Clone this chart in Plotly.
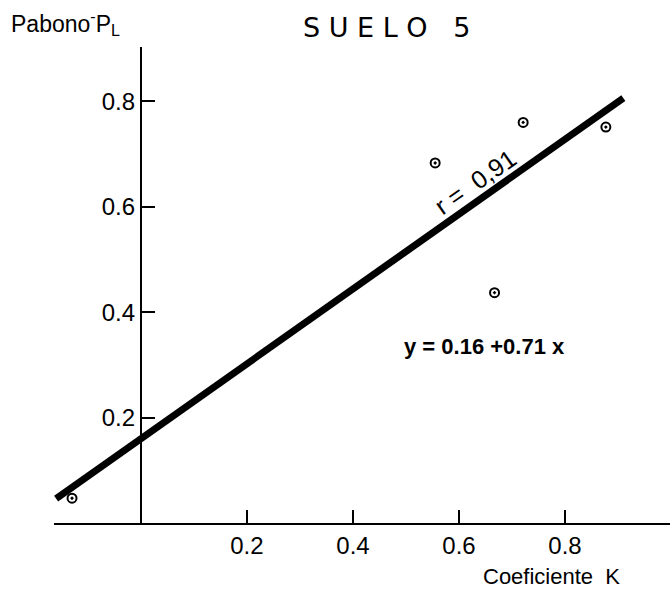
import plotly.graph_objects as go

# Data
k_values = [-0.13, 0.555, 0.667, 0.721, 0.877]
p_values = [0.047, 0.683, 0.437, 0.760, 0.751]
intercept = 0.16
slope = 0.71
fit_x = [-0.16, 0.91]
fit_y = [intercept + slope * x for x in fit_x]
tick_vals = [0.2, 0.4, 0.6, 0.8]
tick_text = ["0.2", "0.4", "0.6", "0.8"]
x_range = [-0.164, 0.998]
y_range = [0.0, 0.903]

COND = "Liberation Sans, Arial, sans-serif"


def cfont(size, bold=False):
    return dict(family=COND, size=size, color="black",
                weight="bold" if bold else "normal")


fig = go.Figure()
fig.add_trace(go.Scatter(x=fit_x, y=fit_y, mode="lines",
                         line=dict(color="black", width=7), hoverinfo="skip"))
fig.add_trace(go.Scatter(x=k_values, y=p_values, mode="markers",
                         marker=dict(symbol="circle-open-dot", size=9, color="black",
                                     line=dict(width=2, color="black"))))

yaxis_pos = (0 - x_range[0]) / (x_range[1] - x_range[0])

fig.update_layout(
    width=670, height=590,
    margin=dict(l=54, r=0, t=47, b=67),
    paper_bgcolor="white", plot_bgcolor="white",
    showlegend=False,
    font=cfont(22),
    xaxis=dict(range=x_range, showgrid=False, zeroline=False,
               showline=True, linecolor="black", linewidth=2,
               ticks="inside", ticklen=13, tickwidth=2, tickcolor="black",
               tickvals=tick_vals, ticktext=tick_text, ticklabelstandoff=0,
               tickfont=cfont(24)),
    yaxis=dict(range=y_range, showgrid=False, zeroline=False,
               anchor="free", position=yaxis_pos,
               showline=True, linecolor="black", linewidth=2,
               ticks="inside", ticklen=13, tickwidth=2, tickcolor="black",
               tickvals=tick_vals, ticktext=tick_text, ticklabelstandoff=0,
               tickfont=cfont(24)),
)

pw = 670 - 54
ph = 590 - 47 - 67
annotations = [
    dict(text="S U E L O   5", px=387, py=28, font=dict(family="DejaVu Sans", size=27, color="black")),
    dict(text="Pabono<sup>-</sup>P<sub>L</sub>", px=65, py=23, font=cfont(23)),
    dict(text="Coeficiente  K", px=551, py=576, font=cfont(22)),
    dict(text="<b>y = 0.16 +0.71 x</b>", px=484, py=346, font=cfont(22, bold=True)),
]
for a in annotations:
    fig.add_annotation(x=(a["px"] - 54) / pw, y=(590 - 67 - a["py"]) / ph,
                       xref="paper", yref="paper", showarrow=False,
                       text=a["text"], font=a["font"],
                       xanchor="center", yanchor="middle")

fig.add_annotation(x=0.630, y=intercept + slope * 0.630 + 0.04, xref="x", yref="y",
                   showarrow=False, text="r =  0,91", textangle=-35,
                   font=cfont(25), xanchor="center", yanchor="middle")

fig.write_html("out.html")
